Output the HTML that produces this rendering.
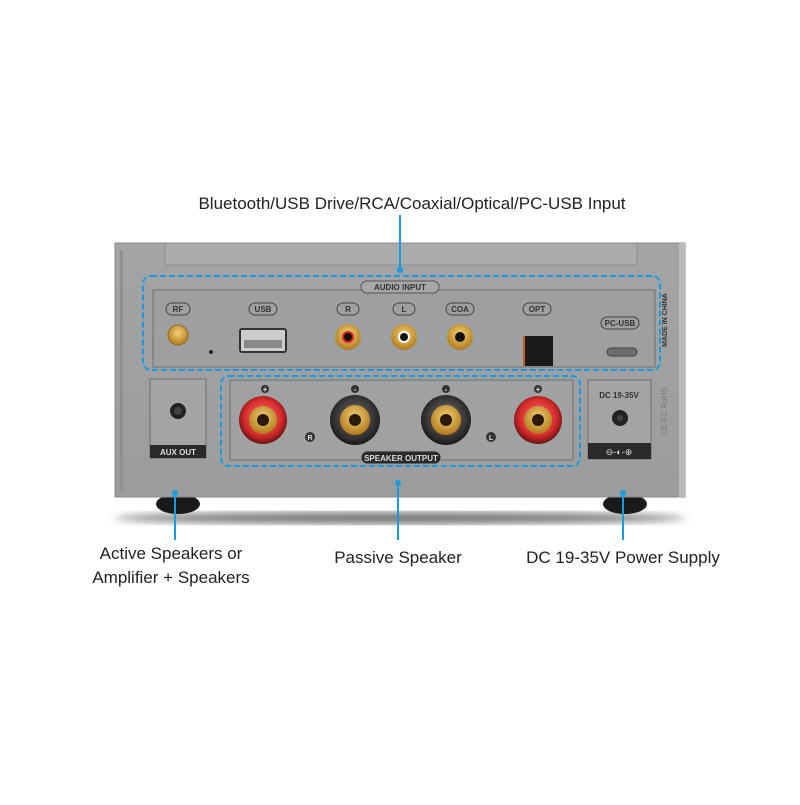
<!DOCTYPE html>
<html><head><style>
body{margin:0;width:800px;height:800px;background:#fff;overflow:hidden;font-family:"Liberation Sans",sans-serif}
</style></head><body>
<svg width="800" height="800" viewBox="0 0 800 800" xmlns="http://www.w3.org/2000/svg" font-family="Liberation Sans, sans-serif">
<defs>
<radialGradient id="gold" cx="50%" cy="40%" r="60%"><stop offset="0" stop-color="#f5d27a"/><stop offset="1" stop-color="#b07a1a"/></radialGradient>
<radialGradient id="redp" cx="50%" cy="45%" r="55%"><stop offset="0" stop-color="#ff7a7a"/><stop offset="0.7" stop-color="#d62a2a"/><stop offset="1" stop-color="#6a1414"/></radialGradient>
<radialGradient id="blkp" cx="50%" cy="45%" r="55%"><stop offset="0" stop-color="#777"/><stop offset="0.7" stop-color="#3a3636"/><stop offset="1" stop-color="#1a1a1a"/></radialGradient>
<linearGradient id="body" x1="0" y1="0" x2="0" y2="1"><stop offset="0" stop-color="#a2a4a6"/><stop offset="1" stop-color="#9a9c9e"/></linearGradient>
<filter id="bl"><feGaussianBlur stdDeviation="4"/></filter>
</defs>
<text x="412" y="209" font-size="17" text-anchor="middle" fill="#222">Bluetooth/USB Drive/RCA/Coaxial/Optical/PC-USB Input</text>
<!-- shadow -->
<ellipse cx="400" cy="518" rx="285" ry="6" fill="#777" filter="url(#bl)"/>
<!-- feet -->
<ellipse cx="178" cy="504" rx="22" ry="10" fill="#1a1a1a"/>
<ellipse cx="625" cy="504" rx="22" ry="10" fill="#1a1a1a"/>
<!-- body -->
<rect x="115" y="243" width="570" height="254" fill="url(#body)" stroke="#8a8c8e"/>
<rect x="679" y="243" width="6" height="254" fill="#b8babc"/>
<rect x="120" y="250" width="3" height="240" fill="#8e9092"/>
<rect x="165" y="243" width="472" height="22" rx="3" fill="#a9abad" stroke="#8c8e90"/>
<!-- audio input panel -->
<rect x="153" y="290" width="502" height="77" fill="#9d9fa1" stroke="#6e7072"/>
<rect x="143" y="276" width="517" height="94" rx="8" fill="none" stroke="#1a9be0" stroke-width="2" stroke-dasharray="6,3"/>
<g font-size="8" font-weight="bold" fill="#333" text-anchor="middle">
<rect x="361" y="281" width="78" height="12" rx="6" fill="#a5a7a9" stroke="#555"/><text x="400" y="290">AUDIO INPUT</text>
<rect x="166" y="303" width="24" height="12" rx="6" fill="none" stroke="#444"/><text x="178" y="312">RF</text>
<rect x="249" y="303" width="28" height="12" rx="6" fill="none" stroke="#444"/><text x="263" y="312">USB</text>
<rect x="337" y="303" width="22" height="12" rx="6" fill="none" stroke="#444"/><text x="348" y="312">R</text>
<rect x="393" y="303" width="22" height="12" rx="6" fill="none" stroke="#444"/><text x="404" y="312">L</text>
<rect x="446" y="303" width="28" height="12" rx="6" fill="none" stroke="#444"/><text x="460" y="312">COA</text>
<rect x="523" y="303" width="28" height="12" rx="6" fill="none" stroke="#444"/><text x="537" y="312">OPT</text>
<rect x="601" y="317" width="38" height="12" rx="6" fill="none" stroke="#444"/><text x="620" y="326">PC-USB</text>
<text x="0" y="0" font-size="7" transform="translate(667,320) rotate(-90)">MADE IN CHINA</text>
</g>
<circle cx="178" cy="335" r="10" fill="url(#gold)" stroke="#9a6a10"/>
<circle cx="211" cy="352" r="2" fill="#222"/>
<rect x="240" y="329" width="46" height="23" rx="2" fill="#ccc" stroke="#333" stroke-width="2"/>
<rect x="244" y="340" width="38" height="8" fill="#888"/>
<circle cx="348" cy="337" r="13" fill="url(#gold)"/><circle cx="348" cy="337" r="6" fill="#d22"/><circle cx="348" cy="337" r="4" fill="#111"/>
<circle cx="404" cy="337" r="13" fill="url(#gold)"/><circle cx="404" cy="337" r="6" fill="#fff"/><circle cx="404" cy="337" r="4" fill="#111"/>
<circle cx="460" cy="337" r="13" fill="url(#gold)"/><circle cx="460" cy="337" r="5" fill="#111"/>
<rect x="523" y="336" width="30" height="30" fill="#1a1a1a"/><rect x="523" y="336" width="2" height="30" fill="#c06020"/>
<rect x="607" y="348" width="30" height="8" rx="4" fill="#6a6c6e" stroke="#444"/>
<!-- AUX -->
<rect x="150" y="379" width="56" height="79" fill="#a2a4a6" stroke="#6e7072"/>
<rect x="150" y="445" width="56" height="13" fill="#2a2a2a"/>
<text x="178" y="455" font-size="8" font-weight="bold" fill="#ddd" text-anchor="middle">AUX OUT</text>
<circle cx="178" cy="411" r="8" fill="#222"/><circle cx="178" cy="411" r="4" fill="#444"/>
<!-- speaker -->
<rect x="230" y="380" width="343" height="80" fill="#9fa1a3" stroke="#6e7072"/>
<rect x="221" y="376" width="359" height="90" rx="8" fill="none" stroke="#1a9be0" stroke-width="2" stroke-dasharray="6,3"/>
<g>
<circle cx="263" cy="420" r="24" fill="url(#redp)"/><circle cx="263" cy="420" r="14" fill="url(#gold)"/><circle cx="263" cy="420" r="6" fill="#2a1a08"/>
<circle cx="355" cy="420" r="25" fill="url(#blkp)"/><circle cx="355" cy="420" r="15" fill="url(#gold)"/><circle cx="355" cy="420" r="6" fill="#2a1a08"/>
<circle cx="446" cy="420" r="25" fill="url(#blkp)"/><circle cx="446" cy="420" r="15" fill="url(#gold)"/><circle cx="446" cy="420" r="6" fill="#2a1a08"/>
<circle cx="538" cy="420" r="24" fill="url(#redp)"/><circle cx="538" cy="420" r="14" fill="url(#gold)"/><circle cx="538" cy="420" r="6" fill="#2a1a08"/>
</g>
<g font-size="8" font-weight="bold" fill="#ddd" text-anchor="middle">
<circle cx="265" cy="389" r="4" fill="#333"/><text x="265" y="392">+</text>
<circle cx="355" cy="389" r="4" fill="#333"/><text x="355" y="392">-</text>
<circle cx="446" cy="389" r="4" fill="#333"/><text x="446" y="392">-</text>
<circle cx="538" cy="389" r="4" fill="#333"/><text x="538" y="392">+</text>
<circle cx="310" cy="437" r="5" fill="#333"/><text x="310" y="440" font-size="7">R</text>
<circle cx="491" cy="437" r="5" fill="#333"/><text x="491" y="440" font-size="7">L</text>
<rect x="361" y="451" width="80" height="13" rx="6.5" fill="#2a2a2a" stroke="#999"/>
<text x="401" y="461">SPEAKER OUTPUT</text>
</g>
<!-- DC -->
<rect x="588" y="380" width="63" height="79" fill="#a2a4a6" stroke="#6e7072"/>
<text x="619" y="398" font-size="8" font-weight="bold" fill="#333" text-anchor="middle">DC 19-35V</text>
<circle cx="620" cy="418" r="8" fill="#222"/><circle cx="620" cy="418" r="3" fill="#444"/>
<rect x="588" y="443" width="63" height="16" fill="#2a2a2a"/>
<text x="619" y="455" font-size="9" fill="#ddd" text-anchor="middle">⊖-◐-⊕</text>
<text x="0" y="0" font-size="8" fill="#777" transform="translate(667,435) rotate(-90)">CE FC RoHS</text>
<!-- lines -->
<g stroke="#1a9be0" stroke-width="2" fill="#1a9be0">
<line x1="400" y1="215" x2="400" y2="270"/><circle cx="400" cy="270" r="3" stroke="none"/>
<line x1="175" y1="493" x2="175" y2="540"/><circle cx="175" cy="493" r="3" stroke="none"/>
<line x1="398" y1="483" x2="398" y2="540"/><circle cx="398" cy="483" r="3" stroke="none"/>
<line x1="623" y1="493" x2="623" y2="540"/><circle cx="623" cy="493" r="3" stroke="none"/>
</g>
<g font-size="17" fill="#222" text-anchor="middle">
<text x="171" y="559">Active Speakers or</text>
<text x="171" y="583">Amplifier + Speakers</text>
<text x="398" y="563">Passive Speaker</text>
<text x="623" y="563">DC 19-35V Power Supply</text>
</g>
</svg>
</body></html>
